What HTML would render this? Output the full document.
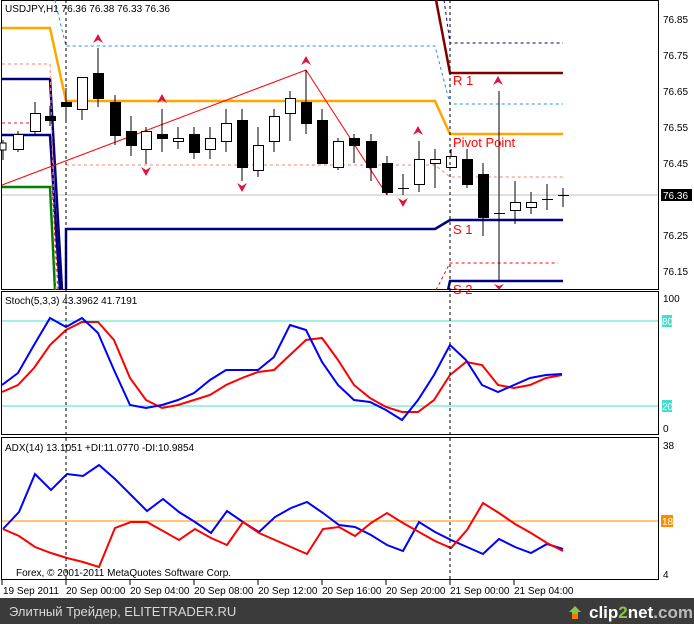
<!DOCTYPE html>
<html><head><meta charset="utf-8"><style>
body{margin:0;width:694px;height:624px;background:#fff;overflow:hidden}
svg{display:block}
text{font-family:"Liberation Sans",sans-serif;font-size:10px;fill:#000}
</style></head><body>
<svg width="694" height="624" viewBox="0 0 694 624">
<rect width="694" height="624" fill="#fff"/>
<!-- panels -->
<rect x="1.5" y="0.5" width="657" height="289" fill="none" stroke="#000"/>
<rect x="1.5" y="291.5" width="657" height="143" fill="none" stroke="#000"/>
<rect x="1.5" y="437.5" width="657" height="142" fill="none" stroke="#000"/>
<!-- main panel lines -->
<line x1="2" y1="195" x2="658" y2="195" stroke="#c0c0c0"/>
<polyline points="2,28 50,28 66,101 435,101 450,134 563,134" fill="none" stroke="#ffa500" stroke-width="2.5"/>
<polyline points="2,79 50,79 62,290" fill="none" stroke="#000080" stroke-width="2.5"/>
<polyline points="2,135 50,135 60,290" fill="none" stroke="#000080" stroke-width="2.5"/>
<polyline points="66,290 66,229 435,229 450,220 563,220" fill="none" stroke="#000080" stroke-width="2.5"/>
<polyline points="448,290 450,281 563,281" fill="none" stroke="#000080" stroke-width="2.5"/>
<polyline points="2,187 50,187 55,290" fill="none" stroke="#008000" stroke-width="2.5"/>
<polyline points="436,0 450,73 563,73" fill="none" stroke="#800000" stroke-width="2.5"/>
<polyline points="55,0 62,30 66,46 435,46 450,104 563,104" fill="none" stroke="#1e90ff" stroke-dasharray="3,3"/>
<polyline points="444,0 450,43 563,43" fill="none" stroke="#000080" stroke-dasharray="3,3"/>
<polyline points="2,64 50,64 56,290" fill="none" stroke="#fa8072" stroke-dasharray="3,3"/>
<polyline points="2,123 40,123" fill="none" stroke="#dc143c" stroke-dasharray="3,3"/>
<polyline points="52,185 58,290" fill="none" stroke="#ff0000" stroke-dasharray="3,3"/>
<polyline points="66,165 435,165 450,177 563,177" fill="none" stroke="#fa8072" stroke-dasharray="3,3"/>
<polyline points="436,290 450,263 558,263" fill="none" stroke="#ff0000" stroke-dasharray="3,3"/>
<polyline points="2,185 306,70 387,195" fill="none" stroke="#ff0000"/>
<!-- candles -->
<g stroke="#000" stroke-width="1">
<line x1="3" y1="140" x2="3" y2="160"/><rect x="0" y="143" width="6" height="7" fill="#fff"/>
<line x1="18" y1="131" x2="18" y2="152"/><rect x="13.5" y="134.5" width="10" height="15" fill="#fff"/>
<line x1="35" y1="102" x2="35" y2="134"/><rect x="30.5" y="113.5" width="10" height="18" fill="#fff"/>
<line x1="50" y1="106" x2="50" y2="126"/><rect x="45.5" y="116.5" width="10" height="4" fill="#000"/>
<line x1="66" y1="88" x2="66" y2="122"/><rect x="61.5" y="102.5" width="10" height="4" fill="#000"/>
<line x1="82" y1="77" x2="82" y2="120"/><rect x="77.5" y="77.5" width="10" height="32" fill="#fff"/>
<line x1="98" y1="48" x2="98" y2="107"/><rect x="93.5" y="73.5" width="10" height="25" fill="#000"/>
<line x1="115" y1="95" x2="115" y2="145"/><rect x="110.5" y="102.5" width="10" height="33" fill="#000"/>
<line x1="131" y1="116" x2="131" y2="156"/><rect x="126.5" y="131.5" width="10" height="14" fill="#000"/>
<line x1="146" y1="127" x2="146" y2="164"/><rect x="141.5" y="131.5" width="10" height="18" fill="#fff"/>
<line x1="162" y1="109" x2="162" y2="152"/><rect x="157.5" y="134.5" width="10" height="4" fill="#000"/>
<line x1="178" y1="127" x2="178" y2="149"/><rect x="173.5" y="138.5" width="10" height="3" fill="#fff"/>
<line x1="194" y1="127" x2="194" y2="159"/><rect x="189.5" y="134.5" width="10" height="18" fill="#000"/>
<line x1="210" y1="127" x2="210" y2="159"/><rect x="205.5" y="138.5" width="10" height="11" fill="#fff"/>
<line x1="226" y1="109" x2="226" y2="152"/><rect x="221.5" y="123.5" width="10" height="18" fill="#fff"/>
<line x1="242" y1="109" x2="242" y2="181"/><rect x="237.5" y="120.5" width="10" height="47" fill="#000"/>
<line x1="258" y1="127" x2="258" y2="177"/><rect x="253.5" y="145.5" width="10" height="25" fill="#fff"/>
<line x1="274" y1="109" x2="274" y2="152"/><rect x="269.5" y="116.5" width="10" height="25" fill="#fff"/>
<line x1="290" y1="91" x2="290" y2="141"/><rect x="285.5" y="98.5" width="10" height="15" fill="#fff"/>
<line x1="306" y1="70" x2="306" y2="134"/><rect x="301.5" y="102.5" width="10" height="21" fill="#000"/>
<line x1="322" y1="109" x2="322" y2="163"/><rect x="317.5" y="120.5" width="10" height="43" fill="#000"/>
<line x1="338" y1="138" x2="338" y2="170"/><rect x="333.5" y="141.5" width="10" height="26" fill="#fff"/>
<line x1="354" y1="134" x2="354" y2="163"/><rect x="349.5" y="138.5" width="10" height="7" fill="#000"/>
<line x1="371" y1="134" x2="371" y2="181"/><rect x="366.5" y="141.5" width="10" height="26" fill="#000"/>
<line x1="387" y1="156" x2="387" y2="195"/><rect x="382.5" y="163.5" width="10" height="29" fill="#000"/>
<line x1="403" y1="174" x2="403" y2="195"/><line x1="398" y1="188.5" x2="409" y2="188.5"/>
<line x1="419" y1="141" x2="419" y2="192"/><rect x="414.5" y="159.5" width="10" height="25" fill="#fff"/>
<line x1="435" y1="149" x2="435" y2="188"/><rect x="430.5" y="159.5" width="10" height="4" fill="#fff"/>
<line x1="451" y1="149" x2="451" y2="167"/><rect x="446.5" y="156.5" width="10" height="11" fill="#fff"/>
<line x1="467" y1="149" x2="467" y2="188"/><rect x="462.5" y="159.5" width="10" height="25" fill="#000"/>
<line x1="483" y1="163" x2="483" y2="236"/><rect x="478.5" y="174.5" width="10" height="43" fill="#000"/>
<line x1="499" y1="91" x2="499" y2="280"/><line x1="494" y1="213.5" x2="505" y2="213.5"/>
<line x1="515" y1="181" x2="515" y2="224"/><rect x="510.5" y="202.5" width="10" height="8" fill="#fff"/>
<line x1="531" y1="192" x2="531" y2="214"/><rect x="526.5" y="202.5" width="10" height="5" fill="#fff"/>
<line x1="547" y1="184" x2="547" y2="210"/><line x1="542" y1="199.5" x2="553" y2="199.5"/>
<line x1="563" y1="188" x2="563" y2="207"/><line x1="558" y1="195.5" x2="569" y2="195.5"/>
</g>
<!-- arrows -->
<g fill="#dc143c">
<path d="M98,34 l-5,9 5,-3 5,3z"/><path d="M162,94 l-5,9 5,-3 5,3z"/><path d="M306,56 l-5,9 5,-3 5,3z"/><path d="M418,126 l-5,9 5,-3 5,3z"/><path d="M498,76 l-5,9 5,-3 5,3z"/>
<path d="M146,176 l-5,-9 5,3 5,-3z"/><path d="M242,192 l-5,-9 5,3 5,-3z"/><path d="M403,207 l-5,-9 5,3 5,-3z"/><path d="M499,290 l-5,-6 5,2 5,-2z"/>
</g>
<g style="font-size:13px">
<text x="453" y="85" fill="#ff0000" style="fill:#f00;font-size:13px">R 1</text>
<text x="453" y="147" style="fill:#f00;font-size:13px">Pivot Point</text>
<text x="453" y="234" style="fill:#f00;font-size:13px">S 1</text>
<text x="453" y="294" style="fill:#f00;font-size:13px">S 2</text>
</g>
<text x="5" y="12">USDJPY,H1  76.36 76.38 76.33 76.36</text>
<!-- price axis -->
<g>
<text x="663" y="23">76.85</text><text x="663" y="59">76.75</text><text x="663" y="95">76.65</text><text x="663" y="131">76.55</text><text x="663" y="167">76.45</text><text x="663" y="239">76.25</text><text x="663" y="275">76.15</text>
<rect x="661" y="189" width="31" height="12" fill="#000"/><text x="663" y="199" style="fill:#fff">76.36</text>
</g>
<!-- stoch -->
<line x1="2" y1="321" x2="658" y2="321" stroke="#40e0d0"/>
<line x1="2" y1="406" x2="658" y2="406" stroke="#40e0d0"/>
<text x="5" y="304">Stoch(5,3,3) 43.3962 41.7191</text>
<text x="663" y="302">100</text>
<rect x="662" y="315" width="10" height="12" fill="#40e0d0"/><text x="662" y="325" style="fill:#fff">80</text>
<rect x="662" y="400" width="10" height="12" fill="#40e0d0"/><text x="662" y="410" style="fill:#fff">20</text>
<text x="663" y="432">0</text>
<polyline fill="none" stroke="#ff0000" stroke-width="2" points="2,392 18,385 34,368 50,345 66,330 82,322 98,322 114,340 130,378 146,400 162,408 178,405 194,400 210,395 226,385 242,378 258,372 274,370 290,355 306,340 322,338 338,360 354,385 370,398 386,407 402,412 418,412 434,400 450,375 466,362 482,365 498,385 514,388 530,385 546,378 562,375"/>
<polyline fill="none" stroke="#0000ff" stroke-width="2" points="2,385 18,373 34,345 50,318 66,327 82,318 98,333 114,370 130,405 146,408 162,405 178,400 194,393 210,380 226,370 242,370 258,370 274,357 290,325 306,330 322,362 338,385 354,400 370,402 386,410 402,420 418,400 434,375 450,345 466,360 482,385 498,392 514,385 530,378 546,375 562,374"/>
<!-- adx -->
<line x1="2" y1="521" x2="658" y2="521" stroke="#ff8c00"/>
<text x="5" y="451">ADX(14) 13.1051 +DI:11.0770 -DI:10.9854</text>
<text x="663" y="449">38</text>
<rect x="661" y="515" width="12" height="12" fill="#ff8c00"/><text x="662" y="525" style="fill:#fff">18</text>
<text x="663" y="578">4</text>
<polyline fill="none" stroke="#0000ff" stroke-width="2" points="3,529 19,512 35,474 51,490 67,474 83,476 99,465 115,479 131,495 147,511 163,499 179,512 195,522 211,533 227,511 243,522 259,532 275,517 291,508 307,502 323,513 339,525 355,527 371,535 387,545 403,551 419,522 435,532 451,540 467,547 483,554 499,539 515,547 531,553 547,544 563,549"/>
<polyline fill="none" stroke="#ff0000" stroke-width="2" points="3,529 19,536 35,547 51,553 67,558 83,562 99,567 115,528 131,522 147,522 163,531 179,540 195,529 211,538 227,545 243,522 259,533 275,540 291,547 307,554 323,529 339,527 355,536 371,523 387,513 403,523 419,532 435,541 451,548 467,530 483,503 499,513 515,524 531,533 547,543 563,551"/>
<text x="16" y="576">Forex, © 2001-2011 MetaQuotes Software Corp.</text>
<!-- vertical separators -->
<line x1="66" y1="0" x2="66" y2="580" stroke="#000" stroke-dasharray="3,3"/>
<line x1="450" y1="0" x2="450" y2="580" stroke="#000" stroke-dasharray="3,3"/>
<!-- time axis -->
<g stroke="#000">
<line x1="2" y1="580" x2="2" y2="585"/><line x1="66" y1="580" x2="66" y2="585"/><line x1="130" y1="580" x2="130" y2="585"/><line x1="194" y1="580" x2="194" y2="585"/><line x1="258" y1="580" x2="258" y2="585"/><line x1="322" y1="580" x2="322" y2="585"/><line x1="386" y1="580" x2="386" y2="585"/><line x1="450" y1="580" x2="450" y2="585"/><line x1="514" y1="580" x2="514" y2="585"/>
</g>
<text x="3" y="594">19 Sep 2011</text><text x="66" y="594">20 Sep 00:00</text><text x="130" y="594">20 Sep 04:00</text><text x="194" y="594">20 Sep 08:00</text><text x="258" y="594">20 Sep 12:00</text><text x="322" y="594">20 Sep 16:00</text><text x="386" y="594">20 Sep 20:00</text><text x="450" y="594">21 Sep 00:00</text><text x="514" y="594">21 Sep 04:00</text>
<!-- footer -->
<rect x="0" y="598" width="694" height="26" fill="#3b3b3b"/>
<text x="9" y="616" style="fill:#d8d8d8;font-size:13px">Элитный Трейдер, ELITETRADER.RU</text>
<path d="M575,606 l-6,6 h3 v6 h6 v-6 h3z" fill="#8bc34a"/>
<rect x="572" y="614" width="6" height="5" fill="#f57c00"/>
<text x="589" y="618" style="fill:#fff;font-size:17px;font-weight:bold">clip<tspan style="fill:#8bc34a">2</tspan>net<tspan style="fill:#bbb">.com</tspan></text>
</svg>
</body></html>
